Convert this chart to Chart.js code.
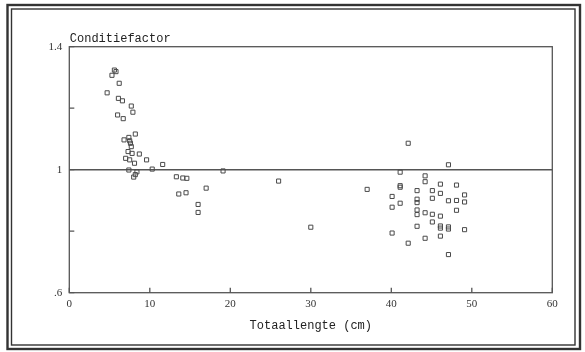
<!DOCTYPE html>
<html>
<head>
<meta charset="utf-8">
<script src="https://cdn.jsdelivr.net/npm/chart.js@4/dist/chart.umd.min.js"></script>
<style>
  html, body { margin: 0; padding: 0; background: #fff; }
  #wrap { position: relative; width: 585px; height: 352px; }
</style>
</head>
<body>
<div id="wrap"><canvas id="chart" width="585" height="352"></canvas></div>
<script>
// lengte (cm) en conditiefactor per vis
const lengths = [
  5.6, 5.8, 5.3, 6.2, 4.7, 6.1, 6.6, 7.7, 7.9, 6.0,
  6.7, 8.2, 6.8, 7.4, 7.5, 7.6, 7.7, 7.3, 7.8, 8.7,
  7.0, 7.5, 8.1, 9.6, 11.6, 7.4, 10.3, 8.4, 8.2, 8.0,
  19.1, 13.3, 14.1, 14.6, 26.0, 17.0, 13.6, 14.5, 16.0, 16.0,
  30.0,
  42.1, 47.1, 41.1, 44.2, 44.2, 37.0, 41.1, 41.1, 46.1, 48.1,
  43.2, 45.1, 46.1, 49.1, 40.1, 45.1, 43.2, 43.2, 47.1, 48.1,
  49.1, 40.1, 41.1, 43.2, 43.2, 44.2, 45.1, 46.1, 48.1, 43.2,
  45.1, 46.1, 46.1, 47.1, 47.1, 49.1, 40.1, 44.2, 46.1, 42.1,
  47.1
];
const factors = [
  1.324, 1.319, 1.307, 1.281, 1.250, 1.232, 1.224, 1.207, 1.187, 1.178,
  1.166, 1.116, 1.097, 1.105, 1.094, 1.086, 1.075, 1.059, 1.053, 1.051,
  1.037, 1.032, 1.021, 1.032, 1.017, 0.999, 1.002, 0.993, 0.984, 0.976,
  0.996, 0.977, 0.973, 0.972, 0.963, 0.940, 0.921, 0.925, 0.887, 0.861,
  0.813,
  1.086, 1.016, 0.992, 0.980, 0.961, 0.936, 0.943, 0.948, 0.953, 0.950,
  0.932, 0.932, 0.923, 0.918, 0.913, 0.907, 0.904, 0.893, 0.899, 0.900,
  0.895, 0.878, 0.891, 0.869, 0.854, 0.860, 0.855, 0.849, 0.868, 0.816,
  0.830, 0.817, 0.810, 0.814, 0.807, 0.805, 0.794, 0.777, 0.784, 0.761,
  0.724
];

const xTicks = [0, 10, 20, 30, 40, 50, 60];
const yTicks = [0.6, 0.8, 1.0, 1.2, 1.4];
const yTickLabels = { 0.6: ".6", 1: "1", 1.4: "1.4" };

const INK = "#333";

// kader rond de hele figuur, rand om het plotvlak en tickjes naar binnen
const framePlugin = {
  id: "frame",
  beforeDraw(chart) {
    const ctx = chart.ctx;
    ctx.save();
    ctx.fillStyle = "#fff";
    ctx.fillRect(0, 0, chart.width, chart.height);
    ctx.restore();
  },
  afterDraw(chart) {
    const { ctx, chartArea: a, scales } = chart;
    ctx.save();
    ctx.strokeStyle = INK;
    // dubbel kader
    ctx.lineWidth = 2.4;
    ctx.strokeRect(7.5, 5, 572.5, 344);
    ctx.lineWidth = 1.4;
    ctx.strokeRect(11.5, 9, 563.5, 336);
    // plotvlak
    ctx.lineWidth = 1.3;
    ctx.strokeStyle = "#555";
    ctx.strokeRect(a.left, a.top, a.right - a.left, a.bottom - a.top);
    ctx.beginPath();
    xTicks.forEach((v) => {
      const px = scales.x.getPixelForValue(v);
      ctx.moveTo(px, a.bottom);
      ctx.lineTo(px, a.bottom - 5);
    });
    yTicks.forEach((v) => {
      const py = scales.y.getPixelForValue(v);
      ctx.moveTo(a.left, py);
      ctx.lineTo(a.left + 5, py);
    });
    ctx.stroke();
    // as-titel bovenaan
    ctx.fillStyle = "#222";
    ctx.font = '12px "Liberation Mono"';
    ctx.textBaseline = "alphabetic";
    ctx.fillText("Conditiefactor", a.left + 0.5, 42);
    ctx.restore();
  },
};

new Chart(document.getElementById("chart"), {
  type: "scatter",
  data: {
    datasets: [{
      data: lengths.map((x, i) => ({ x, y: factors[i] })),
      pointStyle: "rect",
      pointRadius: 2.9,
      pointHoverRadius: 2.9,
      borderWidth: 1,
      borderColor: "#4a4a4a",
      backgroundColor: "rgba(255,255,255,0)",
    }],
  },
  options: {
    responsive: false,
    devicePixelRatio: 1,
    animation: false,
    layout: { padding: { left: 0, top: 46.7, right: 32.7, bottom: 0 } },
    plugins: { legend: { display: false }, tooltip: { enabled: false } },
    scales: {
      x: {
        type: "linear",
        min: 0,
        max: 60,
        afterBuildTicks: (s) => { s.ticks = xTicks.map((v) => ({ value: v })); },
        afterFit: (s) => { s.height = 352 - 292.7; },
        grid: { display: false, drawTicks: false },
        border: { display: false },
        ticks: { padding: 5, color: "#333", font: { family: "Liberation Serif", size: 11 } },
        title: {
          display: true,
          text: "Totaallengte (cm)",
          color: "#222",
          font: { family: "Liberation Mono", size: 12 },
          padding: { top: 0, bottom: 19 },
        },
      },
      y: {
        type: "linear",
        min: 0.6,
        max: 1.4,
        afterBuildTicks: (s) => { s.ticks = yTicks.map((v) => ({ value: v })); },
        afterFit: (s) => { s.width = 69.3; },
        grid: {
          drawTicks: false,
          lineWidth: 1.4,
          color: (c) => (c.tick && Math.abs(c.tick.value - 1) < 1e-6 ? "#555" : "rgba(0,0,0,0)"),
        },
        border: { display: false },
        ticks: {
          padding: 7,
          color: "#333",
          font: { family: "Liberation Serif", size: 11 },
          callback: (v) => yTickLabels[Math.round(v * 10) / 10] || "",
        },
      },
    },
  },
  plugins: [framePlugin],
});
</script>
</body>
</html>
